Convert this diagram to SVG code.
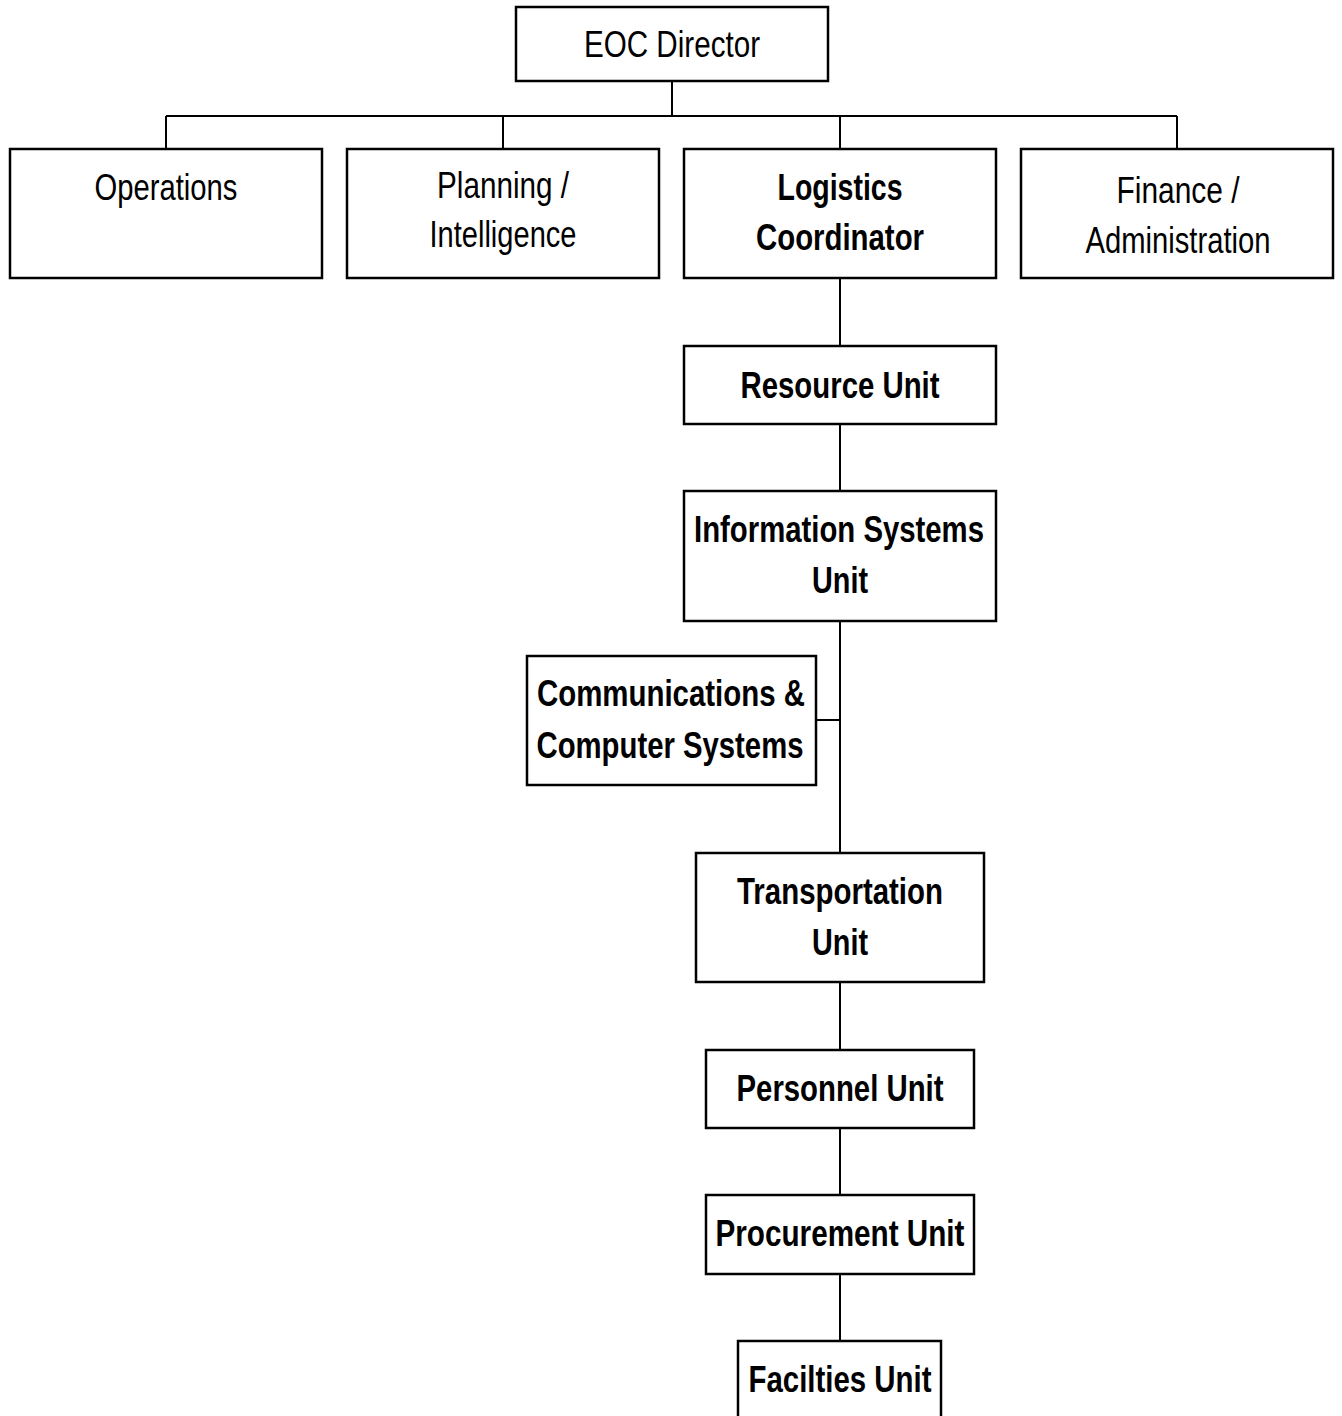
<svg xmlns="http://www.w3.org/2000/svg" width="1342" height="1416" viewBox="0 0 1342 1416">
<style>
.box{fill:#fff;stroke:#000;stroke-width:2.5}
.ln{fill:none;stroke:#000;stroke-width:2}
text{font-family:"Liberation Sans Narrow","Arial Narrow","Liberation Sans",Arial,sans-serif;font-size:36px;fill:#000;text-anchor:middle}
.b{font-weight:bold}
</style>
<rect width="1342" height="1416" fill="#fff"/>
<g id="connectors">
<path class="ln" d="M672,81V116M166,116H1177M166,116V149M503,116V149M840,116V149M1177,116V149"/>
<path class="ln" d="M840,278V346M840,424V491M840,621V853M816,720H840M840,982V1050M840,1128V1195M840,1274V1341"/>
</g>
<g id="eoc-director">
<rect class="box" x="516" y="7" width="312" height="74"/>
<text x="672" y="57" textLength="176" lengthAdjust="spacingAndGlyphs">EOC Director</text>
</g>
<g id="operations">
<rect class="box" x="10" y="149" width="312" height="129"/>
<text x="166" y="200" textLength="143" lengthAdjust="spacingAndGlyphs">Operations</text>
</g>
<g id="planning">
<rect class="box" x="347" y="149" width="312" height="129"/>
<text x="503" y="198" textLength="132" lengthAdjust="spacingAndGlyphs">Planning /</text>
<text x="503" y="247" textLength="147" lengthAdjust="spacingAndGlyphs">Intelligence</text>
</g>
<g id="logistics">
<rect class="box" x="684" y="149" width="312" height="129"/>
<text class="b" x="840" y="200" textLength="125" lengthAdjust="spacingAndGlyphs">Logistics</text>
<text class="b" x="840" y="250" textLength="168" lengthAdjust="spacingAndGlyphs">Coordinator</text>
</g>
<g id="finance">
<rect class="box" x="1021" y="149" width="312" height="129"/>
<text x="1178" y="203" textLength="123" lengthAdjust="spacingAndGlyphs">Finance /</text>
<text x="1178" y="253" textLength="185" lengthAdjust="spacingAndGlyphs">Administration</text>
</g>
<g id="resource-unit">
<rect class="box" x="684" y="346" width="312" height="78"/>
<text class="b" x="840" y="398" textLength="199" lengthAdjust="spacingAndGlyphs">Resource Unit</text>
</g>
<g id="info-systems-unit">
<rect class="box" x="684" y="491" width="312" height="130"/>
<text class="b" x="839" y="542" textLength="290" lengthAdjust="spacingAndGlyphs">Information Systems</text>
<text class="b" x="840" y="593" textLength="56" lengthAdjust="spacingAndGlyphs">Unit</text>
</g>
<g id="comms">
<rect class="box" x="527" y="656" width="289" height="129"/>
<text class="b" x="671" y="706" textLength="268" lengthAdjust="spacingAndGlyphs">Communications &amp;</text>
<text class="b" x="670" y="758" textLength="267" lengthAdjust="spacingAndGlyphs">Computer Systems</text>
</g>
<g id="transportation-unit">
<rect class="box" x="696" y="853" width="288" height="129"/>
<text class="b" x="840" y="904" textLength="206" lengthAdjust="spacingAndGlyphs">Transportation</text>
<text class="b" x="840" y="955" textLength="56" lengthAdjust="spacingAndGlyphs">Unit</text>
</g>
<g id="personnel-unit">
<rect class="box" x="706" y="1050" width="268" height="78"/>
<text class="b" x="840" y="1101" textLength="207" lengthAdjust="spacingAndGlyphs">Personnel Unit</text>
</g>
<g id="procurement-unit">
<rect class="box" x="706" y="1195" width="268" height="79"/>
<text class="b" x="840" y="1246" textLength="249" lengthAdjust="spacingAndGlyphs">Procurement Unit</text>
</g>
<g id="facilities-unit">
<rect class="box" x="738" y="1341" width="203" height="90"/>
<text class="b" x="840" y="1392" textLength="183" lengthAdjust="spacingAndGlyphs">Facilties Unit</text>
</g>
</svg>
